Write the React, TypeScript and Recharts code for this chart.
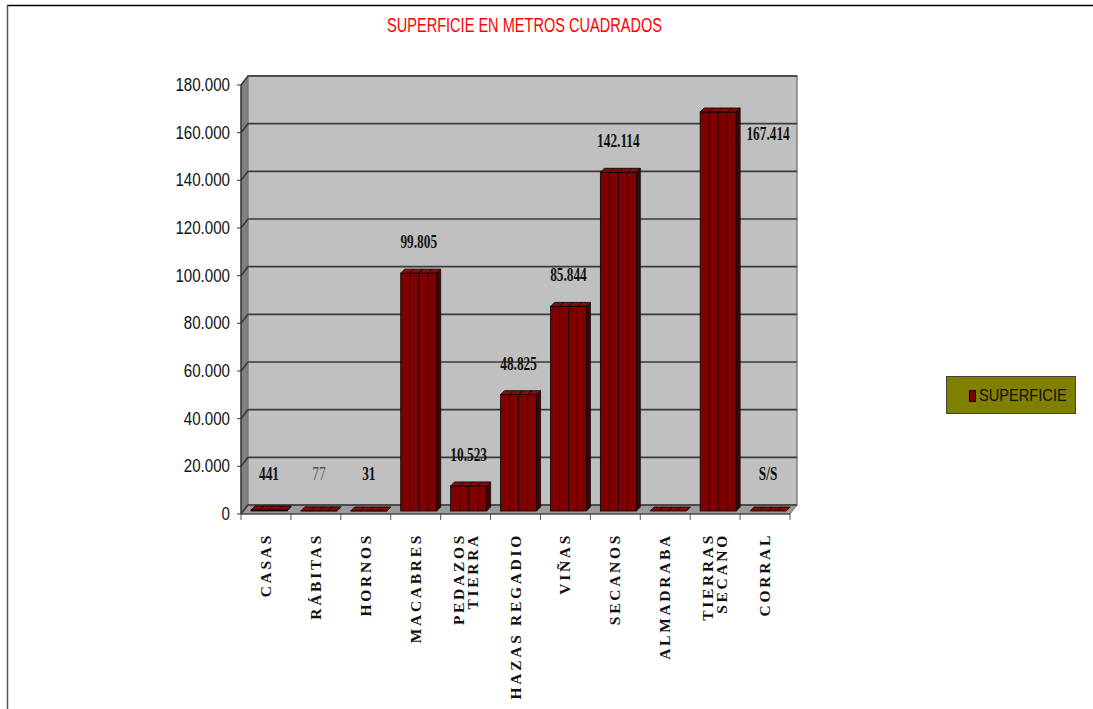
import React from "react";
import {
  BarChart,
  Bar,
  XAxis,
  YAxis,
  CartesianGrid,
  ReferenceArea,
  LabelList,
  Legend,
} from "recharts";

// ---------- data ----------
const categories = [
  "CASAS",
  "RÁBITAS",
  "HORNOS",
  "MACABRES",
  "PEDAZOS\nTIERRA",
  "HAZAS REGADIO",
  "VIÑAS",
  "SECANOS",
  "ALMADRABA",
  "TIERRAS\nSECANO",
  "CORRAL",
];
const superficie = [441, 77, 31, 99805, 10523, 48825, 85844, 142114, 0, 167414, 0];
const valueLabels = [
  "441",
  "77",
  "31",
  "99.805",
  "10.523",
  "48.825",
  "85.844",
  "142.114",
  "",
  "167.414",
  "S/S",
];
const yTicks = [0, 20000, 40000, 60000, 80000, 100000, 120000, 140000, 160000, 180000];
const seriesName = "SUPERFICIE";
const title = "SUPERFICIE EN METROS CUADRADOS";

const data = categories.map((name, i) => ({
  name,
  superficie: superficie[i],
  label: valueLabels[i],
}));

// ---------- layout / style ----------
const W = 1093;
const H = 709;
const MARGIN = { top: 85, right: 303, bottom: 15, left: 181 };
const Y_AXIS_W = 60;
const X_AXIS_H = 180;
const PLOT_W = W - MARGIN.left - Y_AXIS_W - MARGIN.right;
const CAT_W = PLOT_W / categories.length;
const DEPTH_X = 7;
const DEPTH_Y = 9;
const BAR_DX = 3;
const BAR_DY = 3;
const BAR_D = 4;
const BAR_FILL = "#800000";

const fmt = (v: number) =>
  v === 0 ? "0" : String(v).replace(/\B(?=(\d{3})+(?!\d))/g, ".");

const Walls = (props: any) => {
  const { x, y, width, height } = props;
  const x0 = x, x1 = x + width, y0 = y, y1 = y + height;
  return (
    <g>
      <polygon
        points={`${x0},${y1} ${x0},${y0} ${x0 + DEPTH_X},${y0 - DEPTH_Y} ${x0 + DEPTH_X},${y1 - DEPTH_Y}`}
        fill="#808080"
        stroke="#555"
        strokeWidth={1}
      />
      <rect
        x={x0 + DEPTH_X}
        y={y0 - DEPTH_Y}
        width={width}
        height={height}
        fill="#C0C0C0"
        stroke="#808080"
        strokeWidth={1.5}
      />
      <polygon
        points={`${x0},${y1} ${x1},${y1} ${x1 + DEPTH_X},${y1 - DEPTH_Y} ${x0 + DEPTH_X},${y1 - DEPTH_Y}`}
        fill="#9C9C9C"
        stroke="#707070"
        strokeWidth={1}
      />
    </g>
  );
};

const gridLine = (props: any) => {
  const { x1, y1, x2, key } = props;
  return (
    <path
      key={key}
      d={`M${x1},${y1} L${x1 + DEPTH_X},${y1 - DEPTH_Y} L${x2 + DEPTH_X},${y1 - DEPTH_Y}`}
      fill="none"
      stroke="#3a3a3a"
      strokeWidth={1.6}
    />
  );
};

const Bar3D = (props: any) => {
  const { x, y, width, height } = props;
  const bx = x + BAR_DX;
  const by = y - BAR_DY;
  const h = Math.max(0, height);
  const d = BAR_D;
  const parts = [0.25, 0.5, 0.75];
  return (
    <g>
      <polygon
        points={`${bx + width},${by} ${bx + width + d},${by - d} ${bx + width + d},${by + h - d} ${bx + width},${by + h}`}
        fill="#4a0000"
        stroke="#000"
        strokeWidth={0.7}
      />
      <rect x={bx} y={by} width={width} height={h} fill={BAR_FILL} stroke="#000" strokeWidth={0.8} />
      {h > 1 &&
        parts.map((p) => (
          <line
            key={p}
            x1={bx + width * p}
            y1={by}
            x2={bx + width * p}
            y2={by + h}
            stroke="#1a0000"
            strokeWidth={0.9}
          />
        ))}
      <polygon
        points={`${bx},${by} ${bx + d},${by - d} ${bx + width + d},${by - d} ${bx + width},${by}`}
        fill="#8a0a0a"
        stroke="#000"
        strokeWidth={0.8}
      />
      {parts.map((p) => (
        <line
          key={"t" + p}
          x1={bx + width * p}
          y1={by}
          x2={bx + width * p + d}
          y2={by - d}
          stroke="#000"
          strokeWidth={0.8}
        />
      ))}
    </g>
  );
};

const ValueLabel = (props: any) => {
  const { x, y, width, value, index } = props;
  if (!value) return null;
  let cx = x + width / 2 + BAR_DX;
  let by = Math.min(y - 28, 480);
  if (index === 9) {
    cx += CAT_W;
    by = y + 25;
  }
  const light = value === "77";
  return (
    <g transform={`translate(${cx},${by}) scale(0.74,1)`}>
      <text
        x={0}
        y={0}
        textAnchor="middle"
        fontFamily="'Liberation Serif', 'Times New Roman', serif"
        fontWeight={light ? "normal" : "bold"}
        fontSize={18}
        fill={light ? "#555" : "#111"}
      >
        {value}
      </text>
    </g>
  );
};

const YTick = (props: any) => {
  const { x, y, payload } = props;
  return (
    <g transform={`translate(${x},${y}) scale(0.84,1)`}>
      <text
        x={0}
        y={0}
        dy={6}
        textAnchor="end"
        fontFamily="'Liberation Sans', Arial, sans-serif"
        fontSize={18}
        fill="#111"
      >
        {fmt(payload.value)}
      </text>
    </g>
  );
};

const XTick = (props: any) => {
  const { x, y, payload, index } = props;
  const lines = String(payload.value).split("\n");
  const axisY = y - 19;
  const half = CAT_W / 2;
  return (
    <g>
      <line x1={x - half} y1={axisY} x2={x - half} y2={axisY + 6} stroke="#555" strokeWidth={1} />
      {index === categories.length - 1 && (
        <line x1={x + half} y1={axisY} x2={x + half} y2={axisY + 6} stroke="#555" strokeWidth={1} />
      )}
      <g transform={`translate(${x},${y}) rotate(-90)`}>
        <text
          x={0}
          y={0}
          textAnchor="end"
          fontFamily="'Liberation Serif', 'Times New Roman', serif"
          fontWeight="bold"
          fontSize={15.5}
          letterSpacing={2.7}
          fill="#111"
        >
          {lines.map((ln, i) => (
            <tspan
              key={i}
              x={0}
              dy={i === 0 ? (lines.length === 1 ? 5 : -2) : 14}
            >
              {ln}
            </tspan>
          ))}
        </text>
      </g>
    </g>
  );
};

const LegendBox = () => (
  <div
    style={{
      width: 130,
      height: 38,
      background: "#808000",
      border: "1px solid #404040",
      boxSizing: "border-box",
      position: "relative",
    }}
  >
    <div
      style={{
        position: "absolute",
        left: 22,
        top: 13,
        width: 7,
        height: 12,
        background: BAR_FILL,
        border: "1px solid #000",
        boxSizing: "border-box",
      }}
    />
    <div
      style={{
        position: "absolute",
        left: 32,
        top: 9,
        fontFamily: "'Liberation Sans', Arial, sans-serif",
        fontSize: 17,
        lineHeight: "20px",
        color: "#111",
        transform: "scaleX(0.86)",
        transformOrigin: "left center",
        whiteSpace: "nowrap",
      }}
    >
      {seriesName}
    </div>
  </div>
);

export default function App() {
  return (
    <div style={{ position: "absolute", left: 0, top: 0, width: W, height: H, background: "#fff" }}>
      <BarChart width={W} height={H} data={data} margin={MARGIN} barSize={36}>
        <ReferenceArea y1={0} y2={180000} shape={Walls} ifOverflow="visible" zIndex={-300} />
        <CartesianGrid vertical={false} horizontal={gridLine} zIndex={-200} />
        <XAxis
          dataKey="name"
          interval={0}
          height={X_AXIS_H}
          tickLine={false}
          tickSize={5}
          tickMargin={14}
          tick={<XTick />}
          axisLine={{ stroke: "#333", strokeWidth: 1.2 }}
        />
        <YAxis
          width={Y_AXIS_W}
          domain={[0, 180000]}
          ticks={yTicks}
          interval={0}
          tickSize={4}
          tickMargin={7}
          tick={<YTick />}
          tickLine={{ stroke: "#333" }}
          axisLine={{ stroke: "#333", strokeWidth: 1.2 }}
        />
        <Legend
          layout="horizontal"
          verticalAlign="middle"
          align="center"
          content={<LegendBox />}
          wrapperStyle={{ left: 946, top: 376, width: 130, height: 38 }}
        />
        <Bar dataKey="superficie" name={seriesName} fill={BAR_FILL} shape={Bar3D} isAnimationActive={false}>
          <LabelList dataKey="label" content={<ValueLabel />} />
        </Bar>
      </BarChart>
      <svg
        width={W}
        height={H}
        style={{ position: "absolute", left: 0, top: 0, pointerEvents: "none" }}
      >
        <line x1={7} y1={5.5} x2={W} y2={5.5} stroke="#000" strokeWidth={1.5} />
        <line x1={7.5} y1={5} x2={7.5} y2={H} stroke="#555" strokeWidth={1.5} />
        <text
          x={387}
          y={32}
          textLength={275}
          lengthAdjust="spacingAndGlyphs"
          fontFamily="'Liberation Sans', Arial, sans-serif"
          fontSize={20}
          fill="#FF0000"
        >
          {title}
        </text>
      </svg>
    </div>
  );
}
